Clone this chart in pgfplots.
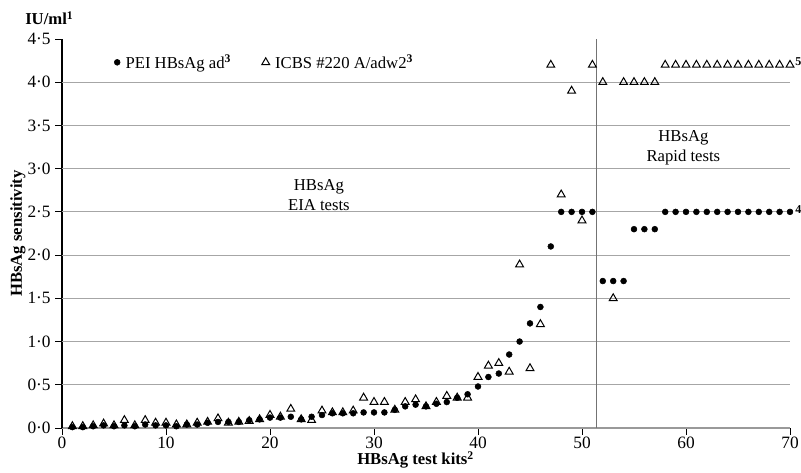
\documentclass[border=0pt]{standalone}
\usepackage{pgfplots}
\pgfplotsset{compat=1.18}
\usepackage{fontspec}
\setmainfont{Liberation Serif}
\pgfplotstableread{
x pei icbs
1 0.01 0.02
2 0.01 0.02
3 0.02 0.03
4 0.03 0.05
5 0.02 0.03
6 0.03 0.09
7 0.02 0.03
8 0.04 0.09
9 0.03 0.06
10 0.03 0.06
11 0.02 0.04
12 0.04 0.04
13 0.04 0.06
14 0.06 0.07
15 0.07 0.11
16 0.07 0.06
17 0.07 0.07
18 0.09 0.08
19 0.10 0.10
20 0.12 0.15
21 0.12 0.13
22 0.13 0.22
23 0.10 0.10
24 0.13 0.09
25 0.15 0.20
26 0.17 0.18
27 0.17 0.18
28 0.17 0.20
29 0.18 0.35
30 0.18 0.30
31 0.18 0.30
32 0.21 0.21
33 0.25 0.30
34 0.27 0.33
35 0.25 0.25
36 0.28 0.30
37 0.30 0.37
38 0.35 0.35
39 0.39 0.35
40 0.48 0.59
41 0.59 0.72
42 0.63 0.75
43 0.85 0.65
44 1.00 1.89
45 1.21 0.69
46 1.40 1.20
47 2.10 4.20
48 2.50 2.70
49 2.50 3.90
50 2.50 2.40
51 2.50 4.20
52 1.70 4.00
53 1.70 1.50
54 1.70 4.00
55 2.30 4.00
56 2.30 4.00
57 2.30 4.00
58 2.50 4.20
59 2.50 4.20
60 2.50 4.20
61 2.50 4.20
62 2.50 4.20
63 2.50 4.20
64 2.50 4.20
65 2.50 4.20
66 2.50 4.20
67 2.50 4.20
68 2.50 4.20
69 2.50 4.20
70 2.50 4.20
}\datatable
\begin{document}
\begin{tikzpicture}[x=1pt,y=1pt]
\begin{axis}[
  at={(0,0)}, anchor=origin,
  scale only axis, width=546pt, height=291.75pt,
  xmin=0, xmax=70, ymin=0, ymax=4.5,
  clip=false,
  axis x line*=bottom, axis y line*=left,
  axis line style={-},
  x axis line style={draw=gray!80, line width=1.4pt},
  y axis line style={draw=black, line width=0.8pt},
  tick align=outside, major tick length=5pt,
  tick style={black, line width=0.6pt},
  xtick={0,10,...,70},
  ytick={0,0.5,...,4.5},
  yticklabels={0·0,0·5,1·0,1·5,2·0,2·5,3·0,3·5,4·0,4·5},
  extra y ticks={0.5,1,1.5,2,2.5,3,3.5,4},
  extra y tick labels={},
  extra y tick style={grid=major, major tick length=0pt},
  major grid style={gray!70, line width=0.7pt},
  /pgf/number format/assume math mode=true,
  tick label style={font=\fontsize{13}{15}\selectfont},
  xticklabel style={yshift=2pt},
  legend style={draw=none, fill=none, legend columns=2,
    at={(axis cs:5.0,4.23)}, anchor=west,
    font=\fontsize{12.5}{15}\selectfont,
    /tikz/every even column/.append style={column sep=21pt},
    inner sep=0pt},
  legend image code/.code={\draw[#1] plot coordinates {(0.1cm,0cm)};},
]
\addplot[only marks, mark=*, mark size=2.2pt, black] table[x=x, y=pei] {\datatable};
\addlegendentry{\,PEI HBsAg ad\textsuperscript{\textbf{3}}}
\addplot[only marks, mark=triangle, mark size=3.4pt, black, mark options={line width=0.75pt}] table[x=x, y=icbs] {\datatable};
\addlegendentry{\,ICBS \#220 A/adw2\textsuperscript{\textbf{3}}}
\draw[gray!90!black, line width=0.8pt] (axis cs:51.4,0) -- (axis cs:51.4,4.5);
\node[align=center, font=\fontsize{12.5}{15}\selectfont] at (axis cs:24.7,2.7) {HBsAg\\EIA tests};
\node[align=center, font=\fontsize{12.5}{15}\selectfont] at (axis cs:59.75,3.24) {HBsAg\\Rapid tests};
\node[anchor=west, font=\fontsize{9}{10}\selectfont\bfseries, inner sep=0pt] at (axis cs:70.5,4.24) {5};
\node[anchor=west, font=\fontsize{9}{10}\selectfont\bfseries, inner sep=0pt] at (axis cs:70.5,2.53) {4};
\node[anchor=base west, font=\fontsize{12.5}{15}\selectfont\bfseries, inner sep=0pt] at (rel axis cs:0,1) [xshift=-27.75pt, yshift=10.5pt] {IU/ml\textsuperscript{1}};
\node[anchor=base, font=\fontsize{12.5}{15}\selectfont\bfseries, inner sep=0pt] at (axis cs:34,0) [yshift=-27.75pt] {HBsAg test kits\textsuperscript{2}};
\node[xshift=-33pt, rotate=90, anchor=center, font=\fontsize{12.5}{15}\selectfont\bfseries, inner sep=0pt] at (rel axis cs:0,0.5) {HBsAg sensitivity};
\end{axis}
\pgfresetboundingbox
\useasboundingbox (-46.5pt,-33.75pt) rectangle (554.25pt,321pt);
\end{tikzpicture}
\end{document}
